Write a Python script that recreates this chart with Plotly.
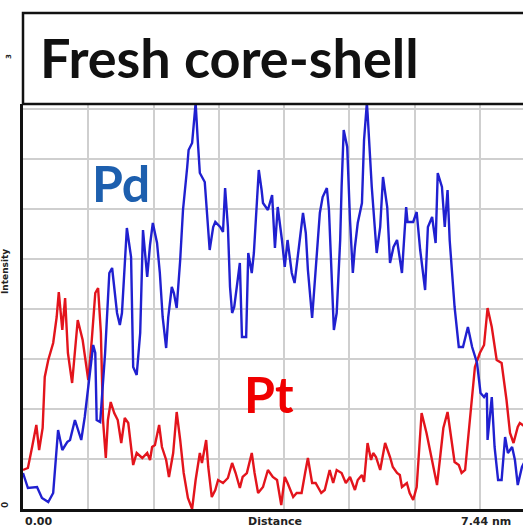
import plotly.graph_objects as go

# Line-scan profile across a fresh core-shell particle (distance in nm, intensity in counts)
pd_distance = [0.00, 0.07, 0.20, 0.27, 0.36, 0.43, 0.50, 0.56, 0.63, 0.67, 0.74, 0.83, 0.88, 0.93,
               1.00, 1.03, 1.05, 1.10, 1.17, 1.23, 1.27, 1.34, 1.38, 1.41, 1.48, 1.54, 1.57, 1.62,
               1.67, 1.71, 1.77, 1.81, 1.85, 1.91, 1.95, 1.99, 2.04, 2.07, 2.12, 2.15, 2.19, 2.24,
               2.28, 2.34, 2.36, 2.41, 2.44, 2.46, 2.49, 2.52, 2.59, 2.64, 2.66, 2.71, 2.74, 2.81,
               2.85, 2.88, 2.92, 2.95, 2.98, 3.01, 3.06, 3.09, 3.12, 3.18, 3.21, 3.26, 3.29, 3.33,
               3.36, 3.40, 3.42, 3.49, 3.55, 3.59, 3.63, 3.69, 3.73, 3.77, 3.83, 3.87, 3.95, 3.99,
               4.03, 4.06, 4.12, 4.16, 4.23, 4.27, 4.33, 4.36, 4.40, 4.43, 4.47, 4.52, 4.54, 4.57,
               4.62, 4.66, 4.70, 4.73, 4.77, 4.83, 4.86, 4.90, 4.91, 4.97, 5.04, 5.09, 5.13, 5.19,
               5.23, 5.28, 5.33, 5.36, 5.40, 5.46, 5.48, 5.56, 5.61, 5.66, 5.73, 5.77, 5.83, 5.88,
               5.91, 5.97, 6.01, 6.05, 6.08, 6.15, 6.21, 6.27, 6.34, 6.40, 6.47, 6.52, 6.57, 6.61,
               6.62, 6.68, 6.72, 6.77, 6.82, 6.87, 6.91, 6.97, 7.01, 7.05, 7.11, 7.16]
pd_intensity = [72, 42, 44, 22, 14, 32, 158, 118, 134, 138, 178, 138, 184, 244,
                328, 312, 178, 174, 312, 472, 482, 392, 368, 392, 562, 504, 284, 268,
                352, 558, 464, 528, 572, 532, 472, 384, 322, 384, 444, 432, 402, 498,
                598, 684, 718, 732, 778, 812, 738, 672, 654, 564, 518, 564, 574, 564,
                554, 642, 564, 444, 392, 404, 464, 492, 344, 344, 512, 472, 512, 618,
                678, 638, 612, 598, 628, 522, 604, 538, 484, 538, 472, 452, 538, 592,
                552, 478, 382, 464, 592, 624, 642, 598, 464, 358, 392, 538, 644, 758,
                724, 578, 472, 524, 572, 612, 738, 812, 792, 644, 512, 564, 664, 604,
                492, 524, 538, 512, 472, 604, 574, 574, 594, 518, 438, 564, 584, 532,
                672, 644, 564, 638, 538, 404, 324, 324, 364, 324, 292, 232, 224, 232,
                138, 224, 124, 58, 58, 144, 112, 124, 98, 48, 84, 98]

pt_distance = [0.00, 0.07, 0.13, 0.19, 0.23, 0.28, 0.31, 0.36, 0.43, 0.48, 0.51, 0.56, 0.60, 0.64,
               0.70, 0.78, 0.85, 0.93, 0.98, 1.03, 1.07, 1.11, 1.14, 1.18, 1.21, 1.25, 1.30, 1.35,
               1.40, 1.45, 1.50, 1.57, 1.62, 1.70, 1.77, 1.81, 1.84, 1.88, 1.94, 1.98, 2.04, 2.08,
               2.14, 2.19, 2.24, 2.29, 2.35, 2.41, 2.46, 2.52, 2.55, 2.61, 2.64, 2.69, 2.74, 2.78,
               2.85, 2.92, 2.98, 3.03, 3.09, 3.13, 3.19, 3.26, 3.30, 3.35, 3.42, 3.49, 3.56, 3.62,
               3.68, 3.73, 3.77, 3.85, 3.90, 3.97, 4.02, 4.06, 4.12, 4.17, 4.25, 4.30, 4.37, 4.42,
               4.47, 4.54, 4.60, 4.66, 4.73, 4.77, 4.83, 4.86, 4.91, 4.96, 4.99, 5.03, 5.09, 5.16,
               5.23, 5.27, 5.33, 5.37, 5.40, 5.47, 5.51, 5.56, 5.61, 5.66, 5.68, 5.75, 5.83, 5.90,
               5.94, 5.99, 6.05, 6.11, 6.15, 6.21, 6.25, 6.30, 6.37, 6.44, 6.51, 6.57, 6.62, 6.68,
               6.75, 6.82, 6.89, 6.94, 6.99, 7.05, 7.08, 7.12, 7.16]
pt_intensity = [78, 82, 124, 168, 118, 162, 264, 298, 332, 384, 434, 358, 422, 312,
                252, 378, 338, 258, 338, 432, 442, 352, 178, 102, 178, 214, 192, 178,
                132, 182, 172, 88, 112, 102, 112, 98, 124, 128, 168, 124, 98, 64,
                112, 194, 138, 72, 22, 0, 58, 112, 92, 138, 84, 24, 38, 58,
                52, 62, 92, 72, 42, 64, 72, 112, 72, 32, 44, 78, 64, 58,
                8, 64, 52, 24, 32, 32, 72, 102, 52, 52, 32, 38, 78, 52,
                78, 72, 52, 64, 38, 58, 68, 54, 132, 98, 112, 104, 78, 132,
                104, 84, 72, 68, 44, 52, 32, 18, 44, 152, 192, 152, 98, 48,
                98, 162, 194, 138, 94, 88, 72, 78, 178, 284, 312, 328, 402, 364,
                298, 292, 218, 152, 132, 164, 172, 168, 164]

x_label_start = "0.00"
x_label_mid = "Distance"
x_label_end = "7.44 nm"
y_label = "Intensity"
title_text = "Fresh core-shell"

W, H = 523, 527
L, T, B = 23, 104, 18
plot_h = H - T - B
title_top_px = 13

fig = go.Figure()
fig.add_trace(go.Scatter(x=pt_distance, y=pt_intensity, mode="lines",
                         line=dict(color="#e3141c", width=2.4), name="Pt", showlegend=False))
fig.add_trace(go.Scatter(x=pd_distance, y=pd_intensity, mode="lines",
                         line=dict(color="#2020d0", width=2.4), name="Pd", showlegend=False))

fig.update_layout(
    width=W, height=H,
    margin=dict(l=L, r=0, t=T, b=B, pad=0),
    paper_bgcolor="white", plot_bgcolor="white",
    xaxis=dict(range=[0, 7.125], tick0=0, dtick=0.93, showgrid=True,
               gridcolor="#cfcfcf", gridwidth=1.5, showticklabels=False, ticks="",
               zeroline=False, showline=True, linecolor="#111111", linewidth=2.5),
    yaxis=dict(range=[0, 810], tick0=0, dtick=100, showgrid=True,
               gridcolor="#cfcfcf", gridwidth=1.5, showticklabels=False, ticks="",
               zeroline=False, showline=True, linecolor="#111111", linewidth=2.5),
)

# Title box sitting on top of the plot frame
title_y1 = 1 + (T - title_top_px) / plot_h
fig.add_shape(type="rect", xref="paper", yref="paper", x0=0, x1=1.1, y0=1, y1=title_y1,
              line=dict(color="#111111", width=2.5), fillcolor="rgba(0,0,0,0)", layer="above")

fig.add_annotation(text=title_text, xref="paper", yref="paper",
                   x=15 / (W - L), y=1 + (T - 58) / plot_h, xanchor="left", yanchor="middle",
                   showarrow=False, font=dict(family="Lato", size=54, color="#111111", weight="bold"))

# Element labels
fig.add_annotation(text="Pd", xref="paper", yref="paper", x=(90 - L) / (W - L),
                   y=(H - B - 183) / plot_h, xanchor="left", yanchor="middle", showarrow=False,
                   font=dict(family="Lato", size=50, color="#1d5fae", weight="bold"))
fig.add_annotation(text="Pt", xref="paper", yref="paper", x=(242 - L) / (W - L),
                   y=(H - B - 394) / plot_h, xanchor="left", yanchor="middle", showarrow=False,
                   font=dict(family="Lato", size=50, color="#f00000", weight="bold"))

# Axis captions
cap_font = dict(family="DejaVu Sans", size=11, color="#222222", weight="bold")
fig.add_annotation(text=x_label_start, xref="paper", yref="paper", x=0, y=-12 / plot_h,
                   xanchor="left", yanchor="middle", showarrow=False, font=cap_font)
fig.add_annotation(text=x_label_mid, xref="paper", yref="paper", x=(275 - L) / (W - L),
                   y=-12 / plot_h, xanchor="center", yanchor="middle", showarrow=False, font=cap_font)
fig.add_annotation(text=x_label_end, xref="paper", yref="paper", x=(459 - L) / (W - L),
                   y=-12 / plot_h, xanchor="left", yanchor="middle", showarrow=False, font=cap_font)
fig.add_annotation(text=y_label, xref="paper", yref="paper", x=-18 / (W - L),
                   y=(H - B - 272) / plot_h, xanchor="center", yanchor="middle", textangle=-90,
                   showarrow=False, font=dict(family="DejaVu Sans", size=9, color="#222222", weight="bold"))
fig.add_annotation(text="0", xref="paper", yref="paper", x=-18 / (W - L), y=(H - B - 505) / plot_h,
                   xanchor="center", yanchor="middle", textangle=-90, showarrow=False,
                   font=dict(family="DejaVu Sans", size=9, color="#222222", weight="bold"))
fig.add_annotation(text="3", xref="paper", yref="paper", x=-14 / (W - L), y=(H - B - 57) / plot_h,
                   xanchor="center", yanchor="middle", textangle=-90, showarrow=False,
                   font=dict(family="DejaVu Sans", size=7, color="#222222", weight="bold"))

fig.write_html("out.html")
